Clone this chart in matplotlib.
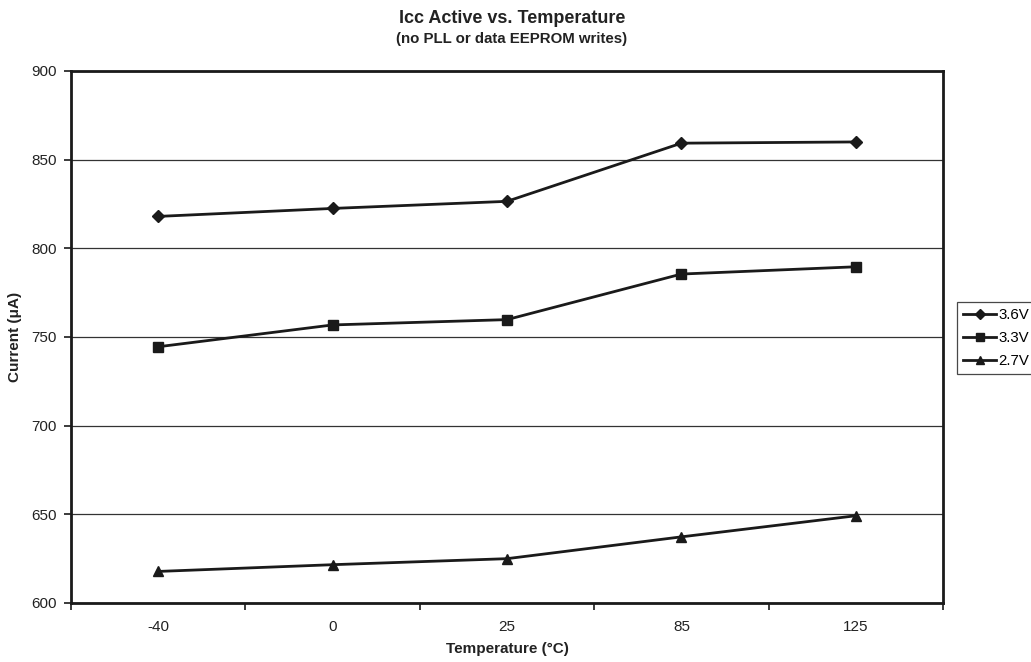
import matplotlib
matplotlib.use("Agg")
import matplotlib.pyplot as plt
import numpy as np

plt.rcParams['font.family'] = ['Liberation Sans', 'DejaVu Sans']

categories = ["-40", "0", "25", "85", "125"]
v36 = [818, 822.5, 826.5, 859.3, 860]
v33 = [744.5, 756.8, 759.8, 785.5, 789.6]
v27 = [617.8, 621.6, 625, 637.3, 649.2]
series_names = ["3.6V", "3.3V", "2.7V"]

fig = plt.figure(figsize=(10.31, 6.62), dpi=100)
ax = fig.add_axes([71/1031, 59/662, 872/1031, 532/662])

x = np.arange(len(categories))
ax.plot(x, v36, color='#1a1a1a', lw=2, marker='D', ms=6, label=series_names[0])
ax.plot(x, v33, color='#1a1a1a', lw=2, marker='s', ms=7, label=series_names[1])
ax.plot(x, v27, color='#1a1a1a', lw=2, marker='^', ms=7.5, label=series_names[2])

ax.set_xlim(-0.5, len(categories) - 0.5)
ax.set_ylim(600, 900)
ax.set_yticks(np.arange(600, 901, 50))
ax.yaxis.grid(True, color='#333333', lw=0.9)
ax.set_axisbelow(True)

ax.set_xticks(np.arange(-0.5, len(categories), 1.0))
ax.set_xticklabels([])
ax.set_xticks(x, minor=True)
ax.set_xticklabels(categories, minor=True)
ax.tick_params(axis='x', which='minor', length=0, pad=12, labelsize=11)
ax.tick_params(axis='x', which='major', length=5, width=1.2, direction='out')
ax.tick_params(axis='y', length=5, width=1.2, direction='out', labelsize=11, pad=5)
ax.tick_params(axis='both', which='both', labelcolor='#222222', color='#1a1a1a')

for s in ax.spines.values():
    s.set_linewidth(2)
    s.set_color('#1a1a1a')

ax.set_xlabel("Temperature (°C)", fontsize=11, fontweight='bold', labelpad=6, color='#222222')
ax.set_ylabel("Current (μA)", fontsize=11, fontweight='bold', labelpad=7, color='#222222')

fig.text(512/1031, 1 - 18.5/662, "Icc Active vs. Temperature", ha='center', va='center',
         fontsize=13, fontweight='bold', color='#222222')
fig.text(512/1031, 1 - 39/662, "(no PLL or data EEPROM writes)", ha='center', va='center',
         fontsize=10.8, fontweight='bold', color='#222222')

leg = fig.legend(loc='upper left', bbox_to_anchor=(957/1031, 1 - 302/662), fontsize=10.8,
                 frameon=True, fancybox=False, edgecolor='#1a1a1a', handlelength=2.2,
                 handletextpad=0.15, borderpad=0.4, labelspacing=0.6, borderaxespad=0,
                 markerscale=0.85)
leg.get_frame().set_linewidth(0.9)

fig.savefig("out.png", dpi=100)
